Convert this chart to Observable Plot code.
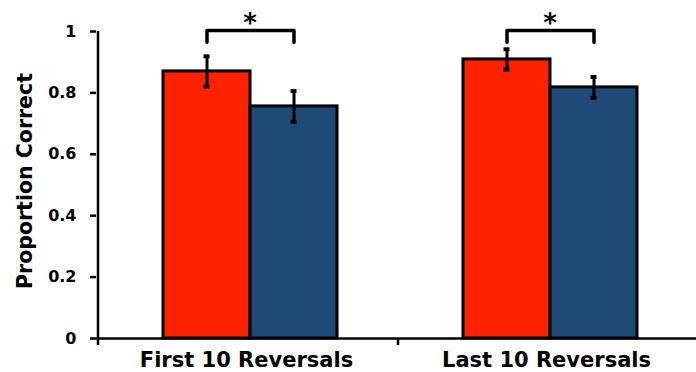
<!DOCTYPE html>
<html>
<head>
<meta charset="utf-8">
<script src="https://cdn.jsdelivr.net/npm/d3@7"></script>
<script src="https://cdn.jsdelivr.net/npm/@observablehq/plot@0.6"></script>
<style>
  html, body { margin: 0; padding: 0; background: white; overflow: hidden; }
</style>
</head>
<body>
<div id="chart"></div>
<script>
const groups = ["First 10 Reversals", "Last 10 Reversals"];
const series = ["Condition A", "Condition B"];
const seriesColors = ["#FF2200", "#1F4A78"];
const meansA = [0.870, 0.909];
const meansB = [0.756, 0.818];
const errA = [0.049, 0.033];
const errB = [0.050, 0.034];
const yTicks = [0, 0.2, 0.4, 0.6, 0.8, 1];
const sigLabels = ["*", "*"];
const yTitle = "Proportion Correct";

const bracketTop = 1.003;
const bracketFoot = 0.965;
const starLevel = 1.026;

const rows = groups.flatMap((g, i) => [
  {group: g, series: series[0], value: meansA[i], err: errA[i]},
  {group: g, series: series[1], value: meansB[i], err: errB[i]}
]);

const bracket = groups.flatMap(g => [
  {group: g, x: series[0], y: bracketFoot},
  {group: g, x: series[0], y: bracketTop},
  {group: g, x: series[1], y: bracketTop},
  {group: g, x: series[1], y: bracketFoot}
]);

const dividers = groups.map((g, i) => ({group: g, y1: -0.023, y2: i === 0 ? 1 : 0}));

const chart = Plot.plot({
  width: 696,
  height: 372,
  marginLeft: 95,
  marginRight: 0,
  marginTop: 31,
  marginBottom: 34,
  style: {fontFamily: "DejaVu Sans", fontWeight: "bold", color: "black", background: "white"},
  fx: {domain: groups, padding: 0, label: null},
  x: {domain: series, paddingInner: 0, paddingOuter: 0.707, align: 0.53, axis: null},
  y: {domain: [0, 1], axis: null},
  color: {domain: series, range: seriesColors},
  marks: [
    Plot.barY(rows, {fx: "group", x: "series", y: "value", fill: "series", stroke: "black", strokeWidth: 3}),
    Plot.ruleX(rows, {fx: "group", x: "series", y1: d => d.value - d.err, y2: d => d.value + d.err, stroke: "black", strokeWidth: 3}),
    Plot.tickY(rows, {fx: "group", x: "series", y: d => d.value + d.err, stroke: "black", strokeWidth: 4, insetLeft: 40.5, insetRight: 40.5}),
    Plot.tickY(rows, {fx: "group", x: "series", y: d => d.value - d.err, stroke: "black", strokeWidth: 4, insetLeft: 40.5, insetRight: 40.5}),
    Plot.ruleY([0], {stroke: "black", strokeWidth: 2.5}),
    Plot.ruleX(dividers, {fx: "group", x: () => series[0], y1: "y1", y2: "y2", dx: -109, stroke: "black", strokeWidth: 2.5}),
    Plot.axisY({ticks: yTicks, tickFormat: d3.format("~g"), tickSize: 6, tickPadding: 14, strokeWidth: 2.5, fontSize: 16, label: null}),
    Plot.axisFx({anchor: "bottom", tickSize: 0, tickPadding: 14, fontSize: 21, label: null}),
    Plot.text([yTitle], {frameAnchor: "left", textAnchor: "middle", lineAnchor: "middle", rotate: -90, dx: -71, dy: -4, fontSize: 20.5, facetAnchor: "left"}),
    Plot.line(bracket, {fx: "group", x: "x", y: "y", z: "group", stroke: "black", strokeWidth: 3.5, strokeLinejoin: "round"}),
    Plot.text(groups, {fx: d => d, x: () => series[1], y: () => starLevel, text: (d, i) => sigLabels[i], dx: -44, fontSize: 26, fontWeight: "bold"})
  ]
});
document.getElementById("chart").appendChild(chart);
</script>
</body>
</html>
